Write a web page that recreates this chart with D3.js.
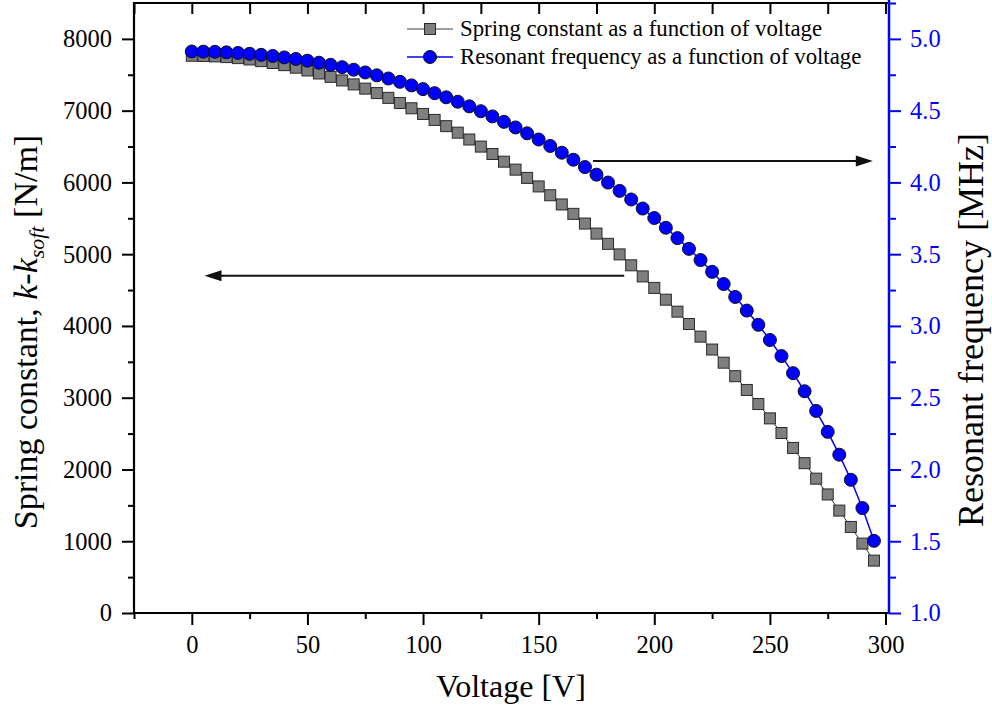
<!DOCTYPE html>
<html>
<head>
<meta charset="utf-8">
<script src="https://cdn.jsdelivr.net/npm/d3@7"></script>
<style>
  body { margin: 0; background: #fff; }
  svg text { font-family: "Liberation Serif", "Times New Roman", serif; }
</style>
</head>
<body>
<svg id="chart" width="992" height="710"></svg>
<script>
// Voltage [V]
const voltage = [0, 5, 10, 15, 20, 25, 30, 35, 40, 45, 50, 55, 60, 65, 70, 75, 80, 85, 90, 95,
  100, 105, 110, 115, 120, 125, 130, 135, 140, 145, 150, 155, 160, 165, 170, 175, 180, 185, 190, 195,
  200, 205, 210, 215, 220, 225, 230, 235, 240, 245, 250, 255, 260, 265, 270, 275, 280, 285, 290, 295];

// Spring constant k-k_soft [N/m]
const springConstant = [7765, 7762, 7756, 7746, 7732, 7713, 7690, 7664, 7634, 7599, 7560, 7518, 7471, 7421, 7366, 7307, 7245, 7178, 7107, 7033,
  6954, 6871, 6784, 6693, 6598, 6499, 6396, 6289, 6178, 6063, 5944, 5821, 5693, 5562, 5427, 5287, 5144, 4997, 4845, 4690,
  4530, 4366, 4199, 4027, 3851, 3671, 3488, 3300, 3108, 2912, 2712, 2508, 2300, 2088, 1872, 1652, 1427, 1199, 967, 730];

// Resonant frequency [MHz]
const resonantFreq = [4.912, 4.911, 4.910, 4.906, 4.902, 4.896, 4.889, 4.881, 4.871, 4.860, 4.848, 4.834, 4.819, 4.803, 4.785, 4.766, 4.746, 4.724, 4.701, 4.676,
  4.650, 4.622, 4.593, 4.562, 4.530, 4.496, 4.460, 4.422, 4.383, 4.342, 4.299, 4.254, 4.207, 4.158, 4.107, 4.054, 3.999, 3.941, 3.881, 3.818,
  3.752, 3.684, 3.612, 3.537, 3.459, 3.377, 3.292, 3.202, 3.107, 3.008, 2.902, 2.790, 2.671, 2.545, 2.408, 2.262, 2.103, 1.928, 1.731, 1.503];

const xMajorTicks = [0, 50, 100, 150, 200, 250, 300];
const xMinorTicks = [-25, 25, 75, 125, 175, 225, 275];
const yLeftMajorTicks = [0, 1000, 2000, 3000, 4000, 5000, 6000, 7000, 8000];
const yLeftMinorTicks = [500, 1500, 2500, 3500, 4500, 5500, 6500, 7500];
const yRightMajorTicks = [1.0, 1.5, 2.0, 2.5, 3.0, 3.5, 4.0, 4.5, 5.0];
const yRightMinorTicks = [1.25, 1.75, 2.25, 2.75, 3.25, 3.75, 4.25, 4.75, 5.25];

const legendLabels = ["Spring constant as a function of voltage", "Resonant frequency as a function of voltage"];

const BLUE = "#0000ff";
const GRAY = "#7f7f7f";

const plot = { left: 134, right: 889, top: 3, bottom: 613 };

const svg = d3.select("#chart");

const x = d3.scaleLinear().domain([-25, 301.5]).range([plot.left, plot.right]);
const yLeft = d3.scaleLinear().domain([0, 8500]).range([plot.bottom, plot.top]);
const yRight = d3.scaleLinear().domain([1, 5.25]).range([plot.bottom, plot.top]);

const springData = voltage.map((v, i) => ({ v, k: springConstant[i] }));
const freqData = voltage.map((v, i) => ({ v, f: resonantFreq[i] }));

// --- series ---
const springLine = d3.line().x(d => x(d.v)).y(d => yLeft(d.k));
const freqLine = d3.line().x(d => x(d.v)).y(d => yRight(d.f));

svg.append("path")
    .datum(springData)
    .attr("d", springLine)
    .attr("fill", "none")
    .attr("stroke", "#333")
    .attr("stroke-width", 1);

const SQ = 11;
svg.append("g").selectAll("rect")
    .data(springData)
    .enter().append("rect")
    .attr("x", d => x(d.v) - SQ / 2)
    .attr("y", d => yLeft(d.k) - SQ / 2)
    .attr("width", SQ)
    .attr("height", SQ)
    .attr("fill", GRAY)
    .attr("stroke", "#2a2a2a")
    .attr("stroke-width", 1);

svg.append("path")
    .datum(freqData)
    .attr("d", freqLine)
    .attr("fill", "none")
    .attr("stroke", BLUE)
    .attr("stroke-width", 1.5);

svg.append("g").selectAll("circle")
    .data(freqData)
    .enter().append("circle")
    .attr("cx", d => x(d.v))
    .attr("cy", d => yRight(d.f))
    .attr("r", 6.5)
    .attr("fill", BLUE)
    .attr("stroke", "#111")
    .attr("stroke-width", 1);

// --- axes ---
function styleAxis(sel, color) {
    sel.select(".domain").remove();
    sel.selectAll("line").attr("stroke", color).attr("stroke-width", 2);
    sel.selectAll("text").attr("fill", color).style("font-size", "24.5px");
}

// bottom
const gBottom = svg.append("g").attr("transform", `translate(0,${plot.bottom})`);
gBottom.append("g")
    .call(d3.axisBottom(x).tickValues(xMajorTicks).tickSize(12).tickPadding(11).tickFormat(d3.format("d")))
    .call(styleAxis, "#000");
gBottom.append("g")
    .call(d3.axisBottom(x).tickValues(xMinorTicks).tickSize(6).tickFormat(""))
    .call(styleAxis, "#000");

// top (inward ticks, no labels)
const gTop = svg.append("g").attr("transform", `translate(0,${plot.top})`);
gTop.append("g")
    .call(d3.axisBottom(x).tickValues(xMajorTicks.concat(xMinorTicks)).tickSize(11).tickFormat(""))
    .call(styleAxis, "#000");

// left
const gLeft = svg.append("g").attr("transform", `translate(${plot.left},0)`);
gLeft.append("g")
    .call(d3.axisLeft(yLeft).tickValues(yLeftMajorTicks).tickSize(12).tickPadding(10).tickFormat(d3.format("d")))
    .call(styleAxis, "#000");
gLeft.append("g")
    .call(d3.axisLeft(yLeft).tickValues(yLeftMinorTicks).tickSize(6).tickFormat(""))
    .call(styleAxis, "#000");

// frame lines
svg.append("line")
    .attr("x1", plot.left).attr("x2", plot.right)
    .attr("y1", plot.bottom).attr("y2", plot.bottom)
    .attr("stroke", "#000").attr("stroke-width", 2.2);
svg.append("line")
    .attr("x1", plot.left).attr("x2", plot.right)
    .attr("y1", plot.top).attr("y2", plot.top)
    .attr("stroke", "#000").attr("stroke-width", 2.2);
svg.append("line")
    .attr("x1", plot.left).attr("x2", plot.left)
    .attr("y1", plot.top - 1).attr("y2", plot.bottom + 1)
    .attr("stroke", "#000").attr("stroke-width", 2.2);

// right (blue)
const gRight = svg.append("g").attr("transform", `translate(${plot.right},0)`);
gRight.append("g")
    .call(d3.axisRight(yRight).tickValues(yRightMajorTicks).tickSize(12).tickPadding(9).tickFormat(d3.format(".1f")))
    .call(styleAxis, BLUE);
gRight.append("g")
    .call(d3.axisRight(yRight).tickValues(yRightMinorTicks).tickSize(7).tickFormat(""))
    .call(styleAxis, BLUE);
svg.append("line")
    .attr("x1", plot.right).attr("x2", plot.right)
    .attr("y1", plot.top - 3).attr("y2", plot.bottom + 1)
    .attr("stroke", BLUE).attr("stroke-width", 2.5);

// --- axis titles ---
svg.append("text")
    .attr("x", 511)
    .attr("y", 697)
    .attr("text-anchor", "middle")
    .style("font-size", "32px")
    .attr("fill", "#000")
    .text("Voltage [V]");

const leftTitle = svg.append("text")
    .attr("transform", "translate(37,332) rotate(-90)")
    .attr("text-anchor", "middle")
    .style("font-size", "34px")
    .attr("fill", "#000");
leftTitle.append("tspan").text("Spring constant, ");
leftTitle.append("tspan").style("font-style", "italic").text("k");
leftTitle.append("tspan").text("-");
leftTitle.append("tspan").style("font-style", "italic").text("k");
leftTitle.append("tspan").style("font-style", "italic").style("font-size", "22px").attr("dy", 7).text("soft");
leftTitle.append("tspan").attr("dy", -7).text(" [N/m]");

svg.append("text")
    .attr("transform", "translate(983,330) rotate(-90)")
    .attr("text-anchor", "middle")
    .style("font-size", "36px")
    .attr("fill", "#000")
    .text("Resonant frequency [MHz]");

// --- arrows ---
const arrows = [
    { from: [173.5, 6300], to: [294.5, 6300], scale: yLeft },
    { from: [187, 4700], to: [5.5, 4700], scale: yLeft }
];
arrows.forEach(a => {
    const x1 = x(a.from[0]), y1 = a.scale(a.from[1]);
    const x2 = x(a.to[0]), y2 = a.scale(a.to[1]);
    const dir = Math.sign(x2 - x1);
    svg.append("line")
        .attr("x1", x1).attr("y1", y1)
        .attr("x2", x2 - dir * 14).attr("y2", y2)
        .attr("stroke", "#111").attr("stroke-width", 2);
    svg.append("path")
        .attr("d", `M${x2},${y2} L${x2 - dir * 17},${y2 - 5.5} L${x2 - dir * 17},${y2 + 5.5} Z`)
        .attr("fill", "#111");
});

// --- legend ---
const legend = svg.append("g").attr("transform", "translate(407,29)");
const legendRows = [
    { label: legendLabels[0], color: "#808080", marker: "square" },
    { label: legendLabels[1], color: BLUE, marker: "circle" }
];
legendRows.forEach((row, i) => {
    const gy = i * 28;
    const r = legend.append("g").attr("transform", `translate(0,${gy})`);
    r.append("line")
        .attr("x1", 0).attr("x2", 46)
        .attr("y1", 0).attr("y2", 0)
        .attr("stroke", row.color).attr("stroke-width", 1.5);
    if (row.marker === "square") {
        r.append("rect")
            .attr("x", 23 - SQ / 2).attr("y", -SQ / 2)
            .attr("width", SQ).attr("height", SQ)
            .attr("fill", GRAY).attr("stroke", "#2a2a2a");
    } else {
        r.append("circle")
            .attr("cx", 23).attr("cy", 0).attr("r", 6.5)
            .attr("fill", BLUE).attr("stroke", "#111");
    }
    r.append("text")
        .attr("x", 53)
        .attr("y", 7)
        .style("font-size", "22.8px")
        .attr("fill", "#000")
        .text(row.label);
});
</script>
</body>
</html>
